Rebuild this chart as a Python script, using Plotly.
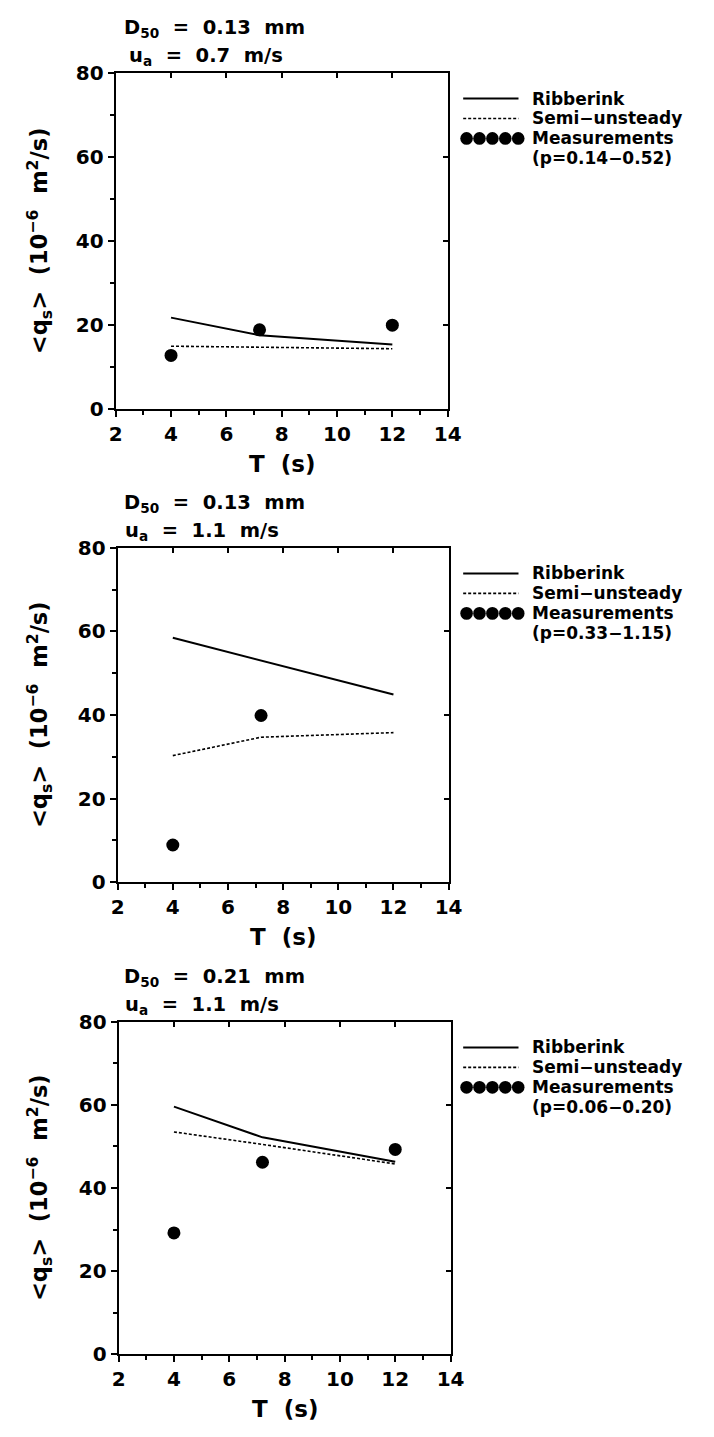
import plotly.graph_objects as go

# ---------------- data ----------------
T_model = [4, 7.2, 12]
T_meas = [4, 7.2, 12]

# panel headers
d50_labels = ["0.13", "0.13", "0.21"]
ua_labels = ["0.7", "1.1", "1.1"]
p_labels = ["(p=0.14\u22120.52)", "(p=0.33\u22121.15)", "(p=0.06\u22120.20)"]

ribberink_1 = [21.8, 17.6, 15.4]
semi_1 = [15.0, 14.8, 14.4]
meas_1 = [12.8, 18.9, 20.0]

ribberink_2 = [58.5, 53.0, 44.9]
semi_2 = [30.3, 34.7, 35.8]
meas_T_2 = [4, 7.2]
meas_2 = [8.9, 39.9]

ribberink_3 = [59.6, 52.2, 46.3]
semi_3 = [53.5, 50.5, 45.8]
meas_3 = [29.2, 46.2, 49.3]

panels = [
    dict(rib=ribberink_1, semi=semi_1, mT=T_meas, m=meas_1),
    dict(rib=ribberink_2, semi=semi_2, mT=meas_T_2, m=meas_2),
    dict(rib=ribberink_3, semi=semi_3, mT=T_meas, m=meas_3),
]

x_ticks = [2, 4, 6, 8, 10, 12, 14]
y_ticks = [0, 20, 40, 60, 80]

# ---------------- layout geometry (pixels) ----------------
W, H = 714, 1437
boxes = [  # left, right, top, bottom
    (112, 454, 62, 404),
    (114, 455, 545, 885),
    (115, 457, 1027, 1365),
]

FONT = "DejaVu Sans"
tickfont = dict(family=FONT, size=20, color="black", weight="bold")

fig = go.Figure()
layout = dict(
    width=W, height=H, margin=dict(l=0, r=0, t=0, b=0),
    paper_bgcolor="white", plot_bgcolor="white", showlegend=False,
)
annotations = []
shapes = []

def px(x):
    return x / W

def py(y):
    return 1 - y / H

for i, (pn, (L, R, Tp, B)) in enumerate(zip(panels, boxes)):
    n = i + 1
    xa = "x" if n == 1 else f"x{n}"
    ya = "y" if n == 1 else f"y{n}"
    xo = f"x{n + 3}"
    yo = f"y{n + 3}"
    xkey = "xaxis" if n == 1 else f"xaxis{n}"
    ykey = "yaxis" if n == 1 else f"yaxis{n}"

    fig.add_trace(go.Scatter(x=T_model, y=pn["rib"], mode="lines",
                             line=dict(color="black", width=2),
                             xaxis=xa, yaxis=ya, hoverinfo="skip"))
    fig.add_trace(go.Scatter(x=T_model, y=pn["semi"], mode="lines",
                             line=dict(color="black", width=1.6, dash="3px,2px"),
                             xaxis=xa, yaxis=ya, hoverinfo="skip"))
    fig.add_trace(go.Scatter(x=pn["mT"], y=pn["m"], mode="markers",
                             marker=dict(color="black", size=13),
                             xaxis=xa, yaxis=ya, hoverinfo="skip"))
    # dummy traces for mirror (inward) tick axes
    fig.add_trace(go.Scatter(x=[], y=[], xaxis=xo, yaxis=ya, hoverinfo="skip"))
    fig.add_trace(go.Scatter(x=[], y=[], xaxis=xa, yaxis=yo, hoverinfo="skip"))

    xdom = [px(L), px(R)]
    ydom = [py(B), py(Tp)]
    layout[xkey] = dict(
        domain=xdom, anchor=ya, range=[2, 14], tickmode="array", tickvals=x_ticks,
        ticks="outside", ticklen=6, tickwidth=2, tickcolor="black",
        showline=True, linewidth=2, linecolor="black", mirror=True,
        showgrid=False, zeroline=False, tickfont=tickfont,
        minor=dict(tickmode="array", tickvals=[3, 5, 7, 9, 11, 13], ticks="outside",
                   ticklen=4, tickwidth=2, tickcolor="black", showgrid=False),
    )
    layout[ykey] = dict(
        domain=ydom, anchor=xa, range=[0, 80], tickmode="array", tickvals=y_ticks,
        ticks="outside", ticklen=6, tickwidth=2, tickcolor="black",
        showline=True, linewidth=2, linecolor="black", mirror=True,
        showgrid=False, zeroline=False, tickfont=tickfont,
        minor=dict(tickmode="array", tickvals=[10, 30, 50, 70], ticks="outside",
                   ticklen=4, tickwidth=2, tickcolor="black", showgrid=False),
    )
    layout[f"xaxis{n + 3}"] = dict(
        overlaying=xa, side="top", anchor=ya, range=[2, 14], tickmode="array",
        tickvals=[4, 6, 8, 10, 12], ticks="inside", ticklen=5, tickwidth=2,
        tickcolor="black", showticklabels=False, showline=False, showgrid=False,
        zeroline=False,
    )
    layout[f"yaxis{n + 3}"] = dict(
        overlaying=ya, side="right", anchor=xa, range=[0, 80], tickmode="array",
        tickvals=[20, 40, 60], ticks="inside", ticklen=5, tickwidth=2,
        tickcolor="black", showticklabels=False, showline=False, showgrid=False,
        zeroline=False,
    )

    hdr_font = dict(family=FONT, size=19.5, color="black", weight="bold")
    annotations.append(dict(
        text=f"D<sub>50</sub>\u00a0\u00a0=\u00a0\u00a0{d50_labels[i]}\u00a0\u00a0mm",
        xref="paper", yref="paper", x=px(118), y=py(Tp - 45),
        xanchor="left", yanchor="middle", showarrow=False, font=hdr_font))
    annotations.append(dict(
        text=f"u<sub>a</sub>\u00a0\u00a0=\u00a0\u00a0{ua_labels[i]}\u00a0\u00a0m/s",
        xref="paper", yref="paper", x=px(120 if i else 124), y=py(Tp - 17),
        xanchor="left", yanchor="middle", showarrow=False, font=hdr_font))
    # y title
    annotations.append(dict(
        text="&lt;q<sub>s</sub>&gt;\u00a0\u00a0(10<sup>\u22126</sup>\u00a0\u00a0m<sup>2</sup>/s)",
        xref="paper", yref="paper", x=px(33), y=py((Tp + B) / 2),
        xanchor="center", yanchor="middle", textangle=-90, showarrow=False,
        font=dict(family=FONT, size=22.5, color="black", weight="bold")))
    # x title
    annotations.append(dict(
        text="T\u00a0\u00a0(s)", xref="paper", yref="paper",
        x=px((L + R) / 2), y=py(B + 56), xanchor="center", yanchor="middle",
        showarrow=False, font=dict(family=FONT, size=23, color="black", weight="bold")))

    # legend
    leg_font = dict(family=FONT, size=17, color="black", weight="bold")
    rows = [Tp + 26, Tp + 46.3, Tp + 66.6, Tp + 86.9]
    texts = ["Ribberink", "Semi\u2212unsteady", "Measurements", p_labels[i]]
    for yy, tt in zip(rows, texts):
        annotations.append(dict(text=tt, xref="paper", yref="paper", x=px(540),
                                y=py(yy), xanchor="left", yanchor="middle",
                                showarrow=False, font=leg_font, borderpad=0))
    shapes.append(dict(type="line", xref="paper", yref="paper",
                       x0=px(470), x1=px(527), y0=py(rows[0]), y1=py(rows[0]),
                       line=dict(color="black", width=2)))
    shapes.append(dict(type="line", xref="paper", yref="paper",
                       x0=px(470), x1=px(527), y0=py(rows[1]), y1=py(rows[1]),
                       line=dict(color="black", width=1.6, dash="3px,2px")))
    for k in range(5):
        cx = 473.5 + k * 13.3
        shapes.append(dict(type="circle", xref="paper", yref="paper",
                           x0=px(cx - 6.5), x1=px(cx + 6.5),
                           y0=py(rows[2] + 6.5), y1=py(rows[2] - 6.5),
                           fillcolor="black", line=dict(width=0)))

layout["annotations"] = annotations
layout["shapes"] = shapes
fig.update_layout(**layout)
fig.write_html("out.html")
